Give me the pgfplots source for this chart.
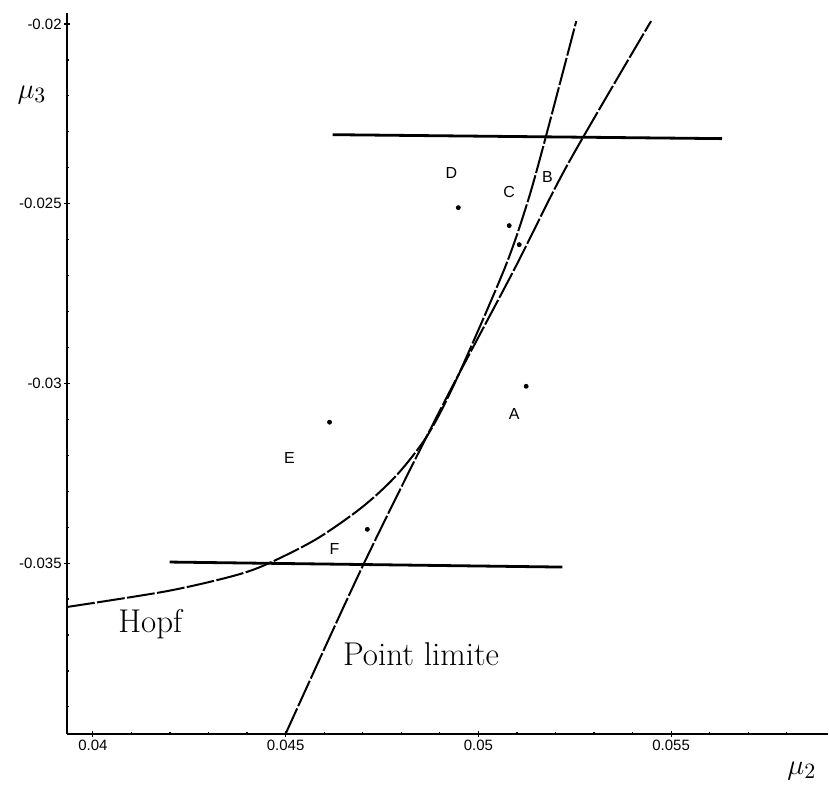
\documentclass[border=0pt]{standalone}
\usepackage{fontspec}
\usepackage{pgfplots}
\pgfplotsset{compat=1.18}
\newfontfamily\sans{Liberation Sans}
\begin{document}
\begin{tikzpicture}
\begin{axis}[
  scale only axis,
  width=381pt, height=361pt,
  xmin=0.03933, xmax=0.05907,
  ymin=-0.03975, ymax=-0.01969,
  scaled ticks=false,
  axis x line*=bottom, axis y line*=left,
  axis line style={line width=1pt},
  xtick={0.04,0.045,0.05,0.055},
  xticklabels={0.04,0.045,0.05,0.055},
  ytick={-0.035,-0.03,-0.025,-0.02},
  yticklabels={-0.035,-0.03,-0.025,-0.02},
  minor xtick={0.041,0.042,0.043,0.044,0.046,0.047,0.048,0.049,0.051,0.052,0.053,0.054,0.056,0.057,0.058},
  minor ytick={-0.039,-0.038,-0.037,-0.036,-0.034,-0.033,-0.032,-0.031,-0.029,-0.028,-0.027,-0.026,-0.024,-0.023,-0.022,-0.021},
  tick align=center,
  major tick length=3pt, minor tick length=1.5pt,
  tick style={black, line width=0.6pt},
  ticklabel style={font=\sans\fontsize{7.5}{9}\selectfont},
  xticklabel style={inner sep=1.5pt},
  yticklabel style={inner sep=1pt},
  clip=false,
]
% bounding frame of the picture
\path (axis cs:0.037591,-0.019333) rectangle (axis cs:0.059068,-0.041139);

% Hopf curve
\addplot[black, line width=1pt, smooth, dash pattern=on 14pt off 1.2pt] coordinates {
(0.03933,-0.03622) (0.04192,-0.03578) (0.04363,-0.03536) (0.04451,-0.03503)
(0.04580,-0.03433) (0.04700,-0.03343) (0.04790,-0.03253) (0.04870,-0.03141)
(0.04943,-0.02989) (0.05067,-0.02683) (0.05124,-0.02508) (0.05166,-0.02350)
(0.05254,-0.01992)};

% Point limite curve
\addplot[black, line width=1pt, smooth, dash pattern=on 14pt off 1.2pt] coordinates {
(0.04500,-0.03975) (0.04700,-0.03508) (0.04899,-0.03078) (0.05093,-0.02683)
(0.05231,-0.02392) (0.05448,-0.01992)};

% horizontal lines
\addplot[black, line width=1.4pt] coordinates {(0.04622,-0.02308) (0.05632,-0.02319)};
\addplot[black, line width=1.4pt] coordinates {(0.04199,-0.03497) (0.05218,-0.03511)};

% points
\addplot[only marks, mark=*, mark size=1pt, black] coordinates {
(0.05124,-0.03008) (0.05106,-0.02614) (0.05080,-0.02561)
(0.04948,-0.02511) (0.04614,-0.03108) (0.04712,-0.03406)};

% point letters
\node[font=\sans\fontsize{8}{9}\selectfont] at (axis cs:0.05093,-0.03086) {A};
\node[font=\sans\fontsize{8}{9}\selectfont] at (axis cs:0.05179,-0.02425) {B};
\node[font=\sans\fontsize{8}{9}\selectfont] at (axis cs:0.05080,-0.02467) {C};
\node[font=\sans\fontsize{8}{9}\selectfont] at (axis cs:0.04930,-0.02414) {D};
\node[font=\sans\fontsize{8}{9}\selectfont] at (axis cs:0.04510,-0.03208) {E};
\node[font=\sans\fontsize{8}{9}\selectfont] at (axis cs:0.04627,-0.03461) {F};

% curve names
\node[anchor=west, inner sep=0pt, font=\fontsize{16.5}{20}\selectfont] at (axis cs:0.04065,-0.03669) {Hopf};
\node[anchor=west, inner sep=0pt, font=\fontsize{16.5}{20}\selectfont] at (axis cs:0.04648,-0.03753) {Point limite};

% axis names
\node[font=\fontsize{15}{18}\selectfont] at (axis cs:0.03842,-0.02197) {$\mu_3$};
\node[font=\fontsize{15}{18}\selectfont] at (axis cs:0.05839,-0.04078) {$\mu_2$};
\end{axis}
\end{tikzpicture}
\end{document}
